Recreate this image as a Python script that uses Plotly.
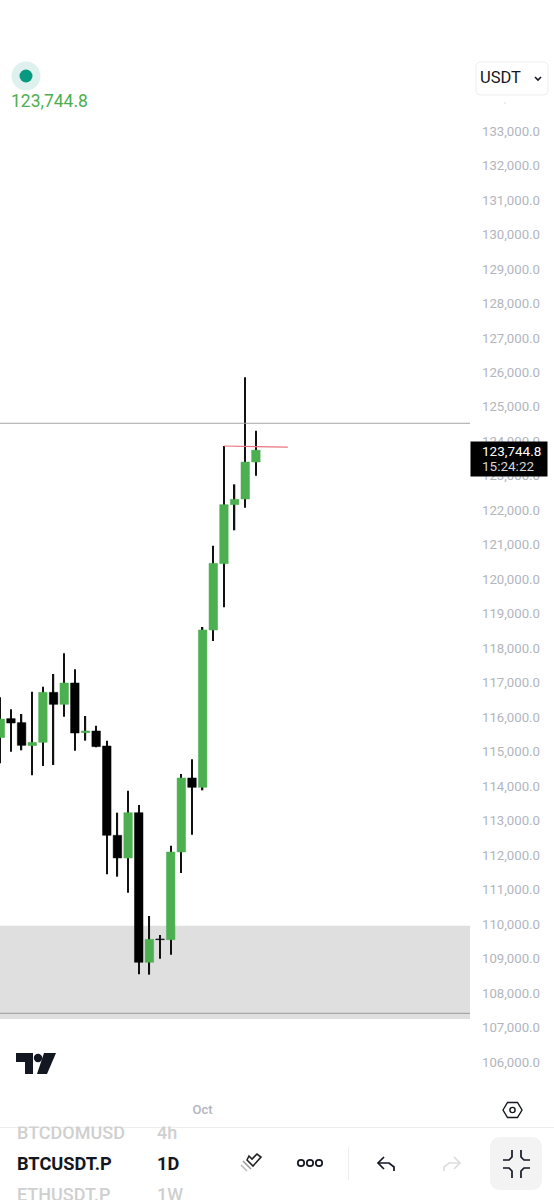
import plotly.graph_objects as go

dates = ["2025-09-%02d" % d for d in range(12, 31)] + ["2025-10-%02d" % d for d in range(1, 7)]
opens = [115406, 115957, 115841, 115174, 115270, 116720, 116372, 116991, 115551, 115599, 115164, 112573, 111916,
         113230, 108890, 109567, 109547, 112090, 114236, 113965, 118528, 120452, 122163, 122327, 123400]
closes = [115947, 115831, 115183, 115270, 116720, 116372, 116991, 115541, 115599, 115145, 112573, 111916, 113230,
          108890, 109557, 109547, 112090, 114236, 113965, 118528, 120462, 122163, 122318, 123400, 123744.8]
highs = [116575, 116227, 116092, 116740, 116885, 117252, 117851, 117387, 116034, 115754, 115319, 113230, 113868,
         113453, 110234, 109683, 112274, 114352, 114777, 118615, 120974, 123864, 122753, 125856, 124309]
lows = [114661, 114999, 115038, 114313, 114584, 114613, 116015, 115029, 115319, 115125, 111442, 111374, 110910,
        108542, 108532, 108996, 109112, 111481, 112592, 113878, 118209, 119185, 121419, 122076, 123004]
price_ticks = list(range(106000, 134000, 1000))
zone_low, zone_high = 107246, 109950
support_level = 107411
resistance_level = 124523
red_level = [123864, 123830]
red_dates = ["2025-10-03", "2025-10-09"]
last_price = "123,744.8"
countdown = "15:24:22"

W, H = 554, 1200
PW, PH = 470, 1098
GREEN, BLACK = "#4caf50", "#000000"
TICK = "#b2b5be"
FONT = "Roboto"
INK = "#131722"
NONE = "rgba(0,0,0,0)"
DAY_MS = 86400000


def X(px):
    return px / PW


def Y(py):
    return (PH - py) / PH


def text(px, py, s, size, color, anchor="left", weight=None):
    return dict(xref="paper", yref="paper", x=X(px), y=Y(py), text=s, showarrow=False, xanchor=anchor,
                yanchor="middle", align=anchor, borderpad=0,
                font=dict(family=FONT, size=size, color=color, weight=weight))


def path(points, close=False, **kw):
    d = "M" + " L".join("%.5f %.5f" % (X(a), Y(b)) for a, b in points) + (" Z" if close else "")
    return dict(type="path", xref="paper", yref="paper", path=d, **kw)


def circle(cx, cy, r, fill, line=None, lw=0):
    return dict(type="circle", xref="paper", yref="paper", x0=X(cx - r), x1=X(cx + r), y0=Y(cy + r), y1=Y(cy - r),
                fillcolor=fill, line=dict(color=line or fill, width=lw))


def rrect(x0, y0, x1, y1, r, fill, line=None, lw=0):
    d = ("M{a:.5f} {b:.5f} L{c:.5f} {b:.5f} Q{e:.5f} {b:.5f} {e:.5f} {f:.5f} L{e:.5f} {g:.5f} Q{e:.5f} {h:.5f} {c:.5f} {h:.5f} "
         "L{a:.5f} {h:.5f} Q{i:.5f} {h:.5f} {i:.5f} {g:.5f} L{i:.5f} {f:.5f} Q{i:.5f} {b:.5f} {a:.5f} {b:.5f} Z"
         .format(a=X(x0 + r), b=Y(y0), c=X(x1 - r), e=X(x1), f=Y(y0 + r), g=Y(y1 - r), h=Y(y1), i=X(x0)))
    return dict(type="path", xref="paper", yref="paper", path=d, fillcolor=fill,
                line=dict(color=line or fill, width=lw))


body_base = [min(o, c) for o, c in zip(opens, closes)]
body_size = [abs(c - o) for o, c in zip(opens, closes)]
wick_size = [h - l for h, l in zip(highs, lows)]
body_colors = [GREEN if c >= o else BLACK for o, c in zip(opens, closes)]

fig = go.Figure()
fig.add_trace(go.Bar(x=dates, y=wick_size, base=lows, width=0.125 * DAY_MS, marker=dict(color="#111111", line=dict(width=0)),
                     hoverinfo="skip"))
fig.add_trace(go.Bar(x=dates, y=body_size, base=body_base, width=0.8 * DAY_MS,
                     marker=dict(color=body_colors, line=dict(color=body_colors, width=0.5)), hoverinfo="skip"))

shapes = [
    dict(type="rect", xref="paper", yref="y", x0=0, x1=1, y0=zone_low, y1=zone_high, fillcolor="#dfdfdf",
         line=dict(width=0), layer="below"),
    dict(type="line", xref="paper", yref="y", x0=0, x1=1, y0=support_level, y1=support_level,
         line=dict(color="#9a9a9a", width=1)),
    dict(type="line", xref="paper", yref="y", x0=0, x1=1, y0=resistance_level, y1=resistance_level,
         line=dict(color="#a3a3a3", width=1)),
    dict(type="line", xref="x", yref="y", x0=red_dates[0], x1=red_dates[1], y0=red_level[0], y1=red_level[1],
         line=dict(color="#e8737f", width=1.2)),
    circle(26, 76, 14.5, "#dff1ef"),
    circle(26, 76, 6.5, "#089981"),
    rrect(476, 62, 548, 95, 5, "#ffffff", "#ededed", 1),
    path([(535, 77), (538, 80), (541, 77)], line=dict(color=INK, width=1.6)),
    circle(505, 103, 0.7, "#d0d0d0"),
    # TradingView mark
    path([(16, 1053), (33, 1053), (33, 1074), (25, 1074), (25, 1062), (16, 1062)], True, fillcolor=INK, line=dict(width=0)),
    circle(38, 1058, 4.2, INK),
    path([(44, 1053), (56, 1053), (47, 1074), (37, 1074)], True, fillcolor=INK, line=dict(width=0)),
    # settings hexagon
    path([(503, 1110), (507.5, 1102.5), (517.5, 1102.5), (522, 1110), (517.5, 1117.5), (507.5, 1117.5)], True,
         fillcolor=NONE, line=dict(color=INK, width=1.4)),
    circle(512.5, 1110, 2.6, NONE, INK, 1.4),
    # toolbar separators
    dict(type="line", xref="paper", yref="paper", x0=X(0), x1=X(W), y0=Y(1127.5), y1=Y(1127.5),
         line=dict(color="#eeeeee", width=1)),
    dict(type="line", xref="paper", yref="paper", x0=X(348.5), x1=X(348.5), y0=Y(1147), y1=Y(1180),
         line=dict(color="#eeeeee", width=1)),
    # drawing tool icon
    path([(247, 1160), (253, 1166), (261, 1157), (257, 1154), (252, 1159), (249, 1156)], True,
         fillcolor=NONE, line=dict(color="#222222", width=1.6)),
    path([(243, 1161), (251, 1169)], line=dict(color="#999999", width=1.5)),
    path([(241, 1165), (247, 1171)], line=dict(color="#bbbbbb", width=1.5)),
    # three dots
    circle(301, 1163, 3.2, NONE, INK, 1.7),
    circle(310, 1163, 3.2, NONE, INK, 1.7),
    circle(319, 1163, 3.2, NONE, INK, 1.7),
    # undo / redo
    path([(384, 1157), (378, 1163), (384, 1169)], line=dict(color=INK, width=1.7)),
    path([(378, 1163), (389, 1163), (394, 1167), (394, 1171)], line=dict(color=INK, width=1.7)),
    path([(454, 1157), (460, 1163), (454, 1169)], line=dict(color="#dddddd", width=1.7)),
    path([(460, 1163), (449, 1163), (444, 1167), (444, 1171)], line=dict(color="#dddddd", width=1.7)),
    # collapse button
    rrect(490, 1137, 542, 1190, 11, "#f3f3f3"),
    path([(503, 1160), (509, 1160), (512, 1157), (512, 1150)], line=dict(color=INK, width=1.7)),
    path([(530, 1160), (524, 1160), (521, 1157), (521, 1150)], line=dict(color=INK, width=1.7)),
    path([(503, 1168), (509, 1168), (512, 1171), (512, 1178)], line=dict(color=INK, width=1.7)),
    path([(530, 1168), (524, 1168), (521, 1171), (521, 1178)], line=dict(color=INK, width=1.7)),
]

annotations = [
    text(10, 101, last_price, 17.5, GREEN),
    text(479.5, 78, "USDT", 16.5, INK),
    dict(xref="paper", yref="paper", x=X(469.5), y=Y(441), xanchor="left", yanchor="top", text=" ",
         showarrow=False, width=76, height=34, bgcolor="#000000", borderpad=0),
    text(481, 450.5, last_price, 13.5, "#ffffff"),
    text(481, 466, countdown, 13.5, "#d6d6d6"),
    text(16, 1132, "BTCDOMUSD", 18, "#cfcfcf", weight=500),
    text(156, 1132, "4h", 18, "#cfcfcf", weight=500),
    # white strip that cuts the tops of the scrolled-away row at the toolbar edge
    dict(xref="paper", yref="paper", x=X(10), y=Y(1116), xanchor="left", yanchor="top", text=" ",
         showarrow=False, width=190, height=8.5, bgcolor="#ffffff", borderpad=0),
    text(16, 1163, "BTCUSDT.P", 18.2, INK, weight=700),
    text(156, 1163, "1D", 18.2, INK, weight=700),
    text(16, 1194, "ETHUSDT.P", 18, "#cfcfcf", weight=500),
    text(156, 1194, "1W", 18, "#cfcfcf", weight=500),
]

fig.update_layout(
    width=W, height=H, autosize=False, showlegend=False, barmode="overlay",
    margin=dict(l=0, r=W - PW, t=0, b=H - PH, autoexpand=False),
    paper_bgcolor="#ffffff", plot_bgcolor="#ffffff",
    shapes=shapes, annotations=annotations,
    xaxis=dict(type="date", range=["2025-09-11 23:20", "2025-10-26 02:30"],
               showgrid=False, zeroline=False, showline=False, ticks="", tickvals=["2025-10-01"], ticktext=["Oct"],
               ticklabelstandoff=2,
               tickfont=dict(family=FONT, size=13, color=TICK, weight=500), fixedrange=True),
    yaxis=dict(range=[104955, 136799], side="right", showgrid=False, zeroline=False, showline=False, ticks="",
               tickvals=price_ticks, tickformat=",.1f", ticklabelstandoff=11,
               tickfont=dict(family=FONT, size=13.2, color=TICK), fixedrange=True),
)

fig.write_html("out.html", config=dict(displayModeBar=False),
               post_script="document.body.style.margin='0';")
